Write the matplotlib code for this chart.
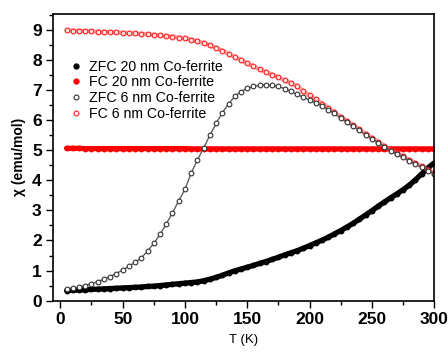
import matplotlib
matplotlib.use("Agg")
import matplotlib.pyplot as plt
from matplotlib.ticker import MultipleLocator
from matplotlib.lines import Line2D

plt.rcParams['font.family'] = ['Liberation Sans', 'DejaVu Sans']

# temperature grid (K)
temp = [5, 10, 15, 20, 25, 30, 35, 40, 45, 50, 55, 60, 65, 70, 75, 80, 85, 90, 95, 100,
        105, 110, 115, 120, 125, 130, 135, 140, 145, 150, 155, 160, 165, 170, 175, 180, 185, 190, 195, 200,
        205, 210, 215, 220, 225, 230, 235, 240, 245, 250, 255, 260, 265, 270, 275, 280, 285, 290, 295, 300]

zfc_20nm = [0.33, 0.34, 0.35, 0.36, 0.37, 0.38, 0.39, 0.40, 0.41, 0.42, 0.43, 0.44, 0.45, 0.47, 0.48, 0.50, 0.52, 0.54, 0.56, 0.58,
            0.60, 0.62, 0.66, 0.71, 0.77, 0.84, 0.92, 0.99, 1.05, 1.11, 1.17, 1.24, 1.30, 1.37, 1.44, 1.52, 1.59, 1.66, 1.74, 1.83,
            1.92, 2.01, 2.11, 2.22, 2.33, 2.45, 2.57, 2.71, 2.85, 2.99, 3.14, 3.28, 3.42, 3.55, 3.69, 3.84, 4.02, 4.22, 4.42, 4.58]

fc_20nm = [5.07, 5.07, 5.07, 5.06, 5.06, 5.06, 5.06, 5.06, 5.06, 5.06, 5.06, 5.06, 5.06, 5.06, 5.06, 5.06, 5.06, 5.06, 5.06, 5.06,
           5.05, 5.05, 5.05, 5.05, 5.05, 5.05, 5.05, 5.05, 5.05, 5.05, 5.05, 5.05, 5.05, 5.05, 5.05, 5.05, 5.05, 5.05, 5.05, 5.05,
           5.05, 5.05, 5.05, 5.05, 5.05, 5.05, 5.05, 5.05, 5.05, 5.05, 5.05, 5.05, 5.05, 5.05, 5.05, 5.05, 5.05, 5.05, 5.05, 5.05]

zfc_6nm = [0.38, 0.41, 0.45, 0.50, 0.56, 0.63, 0.71, 0.80, 0.90, 1.02, 1.14, 1.27, 1.42, 1.65, 1.90, 2.20, 2.55, 2.92, 3.32, 3.70,
           4.25, 4.68, 5.08, 5.50, 5.90, 6.25, 6.55, 6.80, 6.96, 7.07, 7.13, 7.17, 7.18, 7.17, 7.13, 7.06, 6.97, 6.87, 6.77, 6.68,
           6.58, 6.48, 6.36, 6.23, 6.09, 5.95, 5.81, 5.67, 5.53, 5.39, 5.26, 5.12, 4.99, 4.88, 4.77, 4.66, 4.55, 4.44, 4.33, 4.22]

fc_6nm = [9.00, 8.99, 8.98, 8.98, 8.97, 8.96, 8.95, 8.94, 8.93, 8.92, 8.91, 8.90, 8.88, 8.87, 8.85, 8.83, 8.81, 8.79, 8.76, 8.73,
          8.69, 8.64, 8.58, 8.50, 8.41, 8.32, 8.22, 8.11, 8.01, 7.90, 7.80, 7.70, 7.61, 7.52, 7.43, 7.34, 7.24, 7.13, 6.98, 6.83,
          6.70, 6.56, 6.42, 6.27, 6.12, 5.98, 5.84, 5.70, 5.56, 5.42, 5.29, 5.15, 5.02, 4.91, 4.80, 4.69, 4.58, 4.47, 4.36, 4.25]

labels = ['ZFC 20 nm Co-ferrite', 'FC 20 nm Co-ferrite', 'ZFC 6 nm Co-ferrite', 'FC 6 nm Co-ferrite']

fig = plt.figure(figsize=(4.48, 3.54), dpi=100)
ax = fig.add_axes([0.118, 0.151, 0.851, 0.810])

# filled series
ax.plot(temp, fc_20nm, color='#ff0000', linewidth=3.8, solid_capstyle='round')
ax.plot(temp, fc_20nm, linestyle='none', marker='o', markersize=3.2, color='#ff0000')
ax.plot(temp, zfc_20nm, color='black', linewidth=3.8, solid_capstyle='round')
ax.plot(temp, zfc_20nm, linestyle='none', marker='o', markersize=3.2, color='black')

# open circle series
ax.plot(temp, fc_6nm, color='#ff6060', linewidth=3.2, alpha=0.55, solid_capstyle='round')
ax.plot(temp, fc_6nm, linestyle='none', marker='o', markersize=3.4, markerfacecolor='#ffe0e0',
        markeredgecolor='#ff2020', markeredgewidth=0.8)
ax.plot(temp, zfc_6nm, color='#606060', linewidth=1.0)
ax.plot(temp, zfc_6nm, linestyle='none', marker='o', markersize=3.4, markerfacecolor='white',
        markeredgecolor='#303030', markeredgewidth=0.8)

ax.set_xlim(-6, 300)
ax.set_ylim(0, 9.55)
ax.xaxis.set_major_locator(MultipleLocator(50))
ax.xaxis.set_minor_locator(MultipleLocator(25))
ax.yaxis.set_major_locator(MultipleLocator(1))
ax.yaxis.set_minor_locator(MultipleLocator(0.5))
ax.tick_params(which='major', direction='out', length=5, width=1, labelsize=12.5, pad=3)
ax.tick_params(which='minor', direction='out', length=3, width=1)
ax.tick_params(top=False, right=False, which='both')
for lab in ax.get_xticklabels() + ax.get_yticklabels():
    lab.set_fontweight('bold')
for sp in ax.spines.values():
    sp.set_linewidth(1.2)

ax.set_xlabel('T (K)', fontsize=9.5, labelpad=5)
ax.set_ylabel('χ (emu/mol)', fontsize=10, fontweight='bold', labelpad=4)

handles = [
    Line2D([], [], linestyle='none', marker='o', markersize=3.5, color='black'),
    Line2D([], [], linestyle='none', marker='o', markersize=3.5, color='#ff0000'),
    Line2D([], [], linestyle='none', marker='o', markersize=3.5, markerfacecolor='white',
           markeredgecolor='#303030', markeredgewidth=0.8),
    Line2D([], [], linestyle='none', marker='o', markersize=3.5, markerfacecolor='white',
           markeredgecolor='#ff2020', markeredgewidth=0.8),
]
ax.legend(handles, labels, loc='upper left', bbox_to_anchor=(0.015, 0.875), frameon=False,
          fontsize=10.2, handlelength=1.0, handletextpad=0.45, labelspacing=0.12, borderaxespad=0.3)

fig.savefig('out.png', dpi=100)
